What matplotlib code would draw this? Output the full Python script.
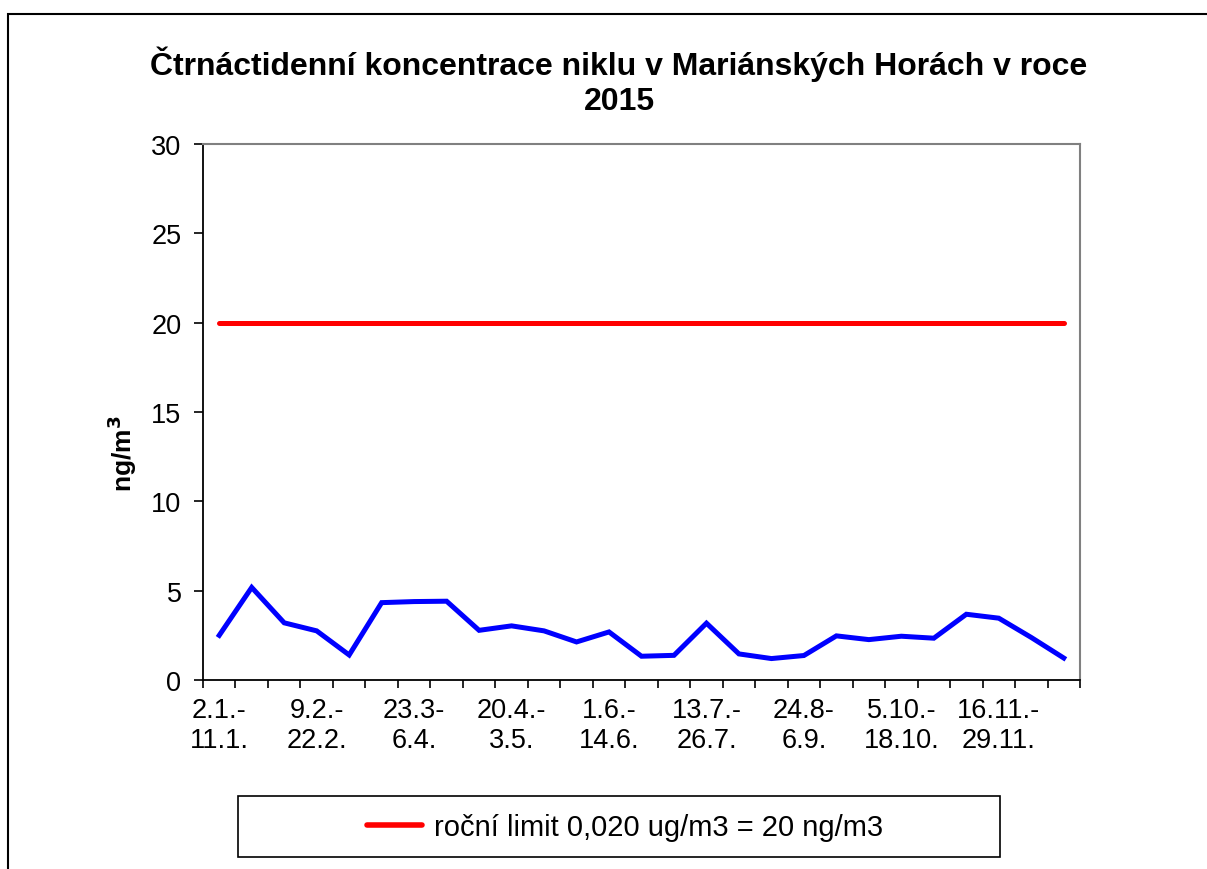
import matplotlib
matplotlib.use("Agg")
import matplotlib.pyplot as plt
from matplotlib.patches import Rectangle
from matplotlib.lines import Line2D
import numpy as np

plt.rcParams['font.family'] = ['Liberation Sans', 'DejaVu Sans']

# Data
concentration = [2.5, 5.18, 3.2, 2.75, 1.4, 4.33, 4.39, 4.41, 2.78, 3.03, 2.75, 2.13, 2.69,
                 1.33, 1.38, 3.18, 1.46, 1.2, 1.37, 2.47, 2.26, 2.45, 2.34, 3.68, 3.46, 2.38, 1.23]
annual_limit = [20.0] * len(concentration)
tick_labels = ["2.1.-\n11.1.", "9.2.-\n22.2.", "23.3-\n6.4.", "20.4.-\n3.5.", "1.6.-\n14.6.",
               "13.7.-\n26.7.", "24.8-\n6.9.", "5.10.-\n18.10.", "16.11.-\n29.11."]
tick_step = 3
title = "Čtrnáctidenní koncentrace niklu v Mariánských Horách v roce\n2015"
ylabel = "ng/m$^{\\mathbf{3}}$"
legend_label = "roční limit 0,020 ug/m3 = 20 ng/m3"

W, H = 1207, 870
fig = plt.figure(figsize=(W / 100, H / 100), dpi=100)

# outer border (extends beyond right/bottom edges)
fig.patches.append(Rectangle((8 / W, -0.1), 1.2, 1 - 14.5 / H + 0.1, transform=fig.transFigure,
                             fill=False, edgecolor='black', linewidth=1.5, zorder=0))

ax = fig.add_axes([203 / W, 1 - 681 / H, (1080 - 203) / W, (681 - 145) / H])

x = np.arange(len(concentration))
ax.plot(x, annual_limit, color='#FF0000', linewidth=3.6, solid_capstyle='round', zorder=3)
ax.plot(x, concentration, color='#0000FF', linewidth=3.6, solid_joinstyle='miter', zorder=3)

ax.set_xlim(-0.5, len(concentration) - 0.5)
ax.set_ylim(0, 30)
ax.set_yticks(np.arange(0, 31, 5))
ax.tick_params(axis='y', labelsize=19.5, length=6.5, width=1.2, direction='out', pad=9, colors='black')

major_pos = x[::tick_step]
ax.set_xticks(major_pos)
ax.set_xticklabels(tick_labels, fontsize=19.5, linespacing=1.2)
ax.set_xticks(np.arange(-0.5, len(concentration), 1), minor=True)
ax.tick_params(axis='x', which='major', length=0, pad=12)
ax.tick_params(axis='x', which='minor', length=6, width=1.2, direction='out')

for s in ['left', 'bottom']:
    ax.spines[s].set_color('black')
    ax.spines[s].set_linewidth(1.3)
for s in ['top', 'right']:
    ax.spines[s].set_color('#808080')
    ax.spines[s].set_linewidth(1.5)

fig.text(619 / W, 1 - 82 / H, title, ha='center', va='center', fontsize=23,
         fontweight='bold', linespacing=1.22)
fig.text(122 / W, 1 - 454 / H, ylabel, ha='center', va='center', rotation=90,
         fontsize=19, fontweight='bold')

# legend
fig.patches.append(Rectangle((238 / W, 1 - 858 / H), (1000 - 238) / W, (858 - 797) / H,
                             transform=fig.transFigure, fill=False, edgecolor='black',
                             linewidth=1.2, zorder=1))
handle = Line2D([], [], color='#FF0000', linewidth=4, solid_capstyle='round')
fig.legend([handle], [legend_label], loc='center', bbox_to_anchor=(625 / W, 1 - 828 / H),
           frameon=False, fontsize=21, handlelength=1.9, handletextpad=0.4)

fig.savefig("out.png", dpi=100)
